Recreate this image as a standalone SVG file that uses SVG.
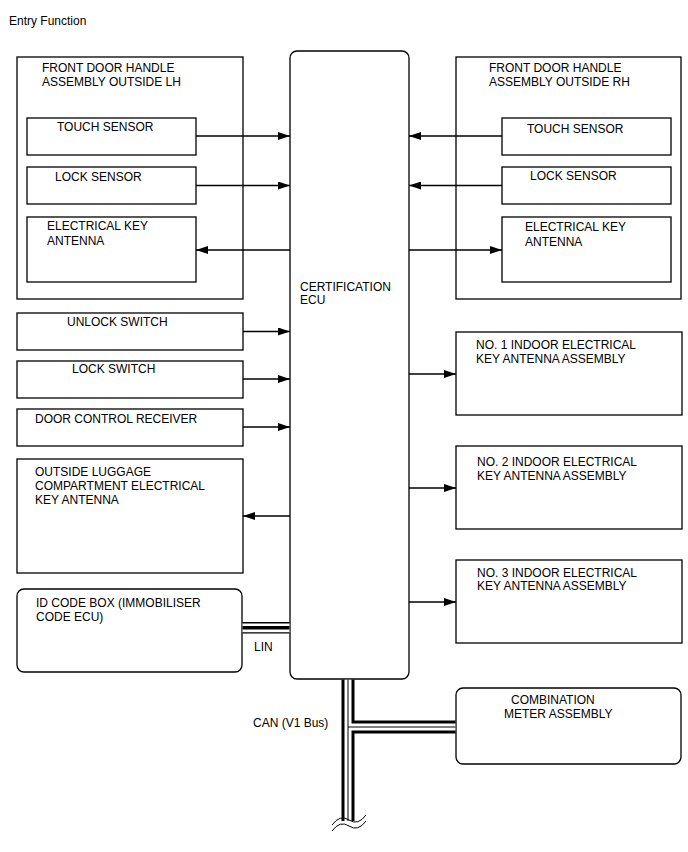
<svg xmlns="http://www.w3.org/2000/svg" width="688" height="852" viewBox="0 0 688 852">
<style>
.b{fill:#fff;stroke:#000;stroke-width:1.3}
.t{font-family:"Liberation Sans",Arial,sans-serif;font-size:12px;fill:#000}
.c{fill:none;stroke:#000;stroke-width:1.3}
</style>
<defs>
<marker id="ah" viewBox="0 0 12 8" refX="12" refY="4" markerWidth="12" markerHeight="8" markerUnits="userSpaceOnUse" orient="auto">
<path d="M0,0 L12,4 L0,8 Z" fill="#000"/>
</marker>
</defs>
<rect width="688" height="852" fill="#fff"/>
<text class="t" x="9" y="25">Entry Function</text>

<g id="lh">
<rect class="b" x="17" y="57" width="226" height="242"/>
<text class="t" x="42" y="72">FRONT DOOR HANDLE</text>
<text class="t" x="42" y="86">ASSEMBLY OUTSIDE LH</text>
</g>
<g id="lh-touch"><rect class="b" x="27" y="118" width="169" height="37"/><text class="t" x="57" y="131">TOUCH SENSOR</text></g>
<g id="lh-lock"><rect class="b" x="27" y="167" width="169" height="37"/><text class="t" x="55" y="181">LOCK SENSOR</text></g>
<g id="lh-ant"><rect class="b" x="27" y="217" width="169" height="65"/><text class="t" x="47" y="230">ELECTRICAL KEY</text><text class="t" x="47" y="245">ANTENNA</text></g>

<g id="rh">
<rect class="b" x="456" y="57" width="225" height="242"/>
<text class="t" x="489" y="72">FRONT DOOR HANDLE</text>
<text class="t" x="489" y="86">ASSEMBLY OUTSIDE RH</text>
</g>
<g id="rh-touch"><rect class="b" x="502" y="118" width="169" height="37"/><text class="t" x="527" y="133">TOUCH SENSOR</text></g>
<g id="rh-lock"><rect class="b" x="502" y="167" width="169" height="37"/><text class="t" x="530" y="180">LOCK SENSOR</text></g>
<g id="rh-ant"><rect class="b" x="502" y="217" width="169" height="65"/><text class="t" x="525" y="231">ELECTRICAL KEY</text><text class="t" x="525" y="246">ANTENNA</text></g>

<g id="ecu"><rect class="b" x="290" y="51" width="119" height="628" rx="7"/><text class="t" x="300" y="291">CERTIFICATION</text><text class="t" x="300" y="304">ECU</text></g>

<g id="unlock"><rect class="b" x="17" y="313" width="226" height="37"/><text class="t" x="67" y="326">UNLOCK SWITCH</text></g>
<g id="lock"><rect class="b" x="17" y="361" width="226" height="37"/><text class="t" x="72" y="373">LOCK SWITCH</text></g>
<g id="dcr"><rect class="b" x="17" y="409" width="226" height="37"/><text class="t" x="35" y="423">DOOR CONTROL RECEIVER</text></g>
<g id="lug"><rect class="b" x="17" y="459" width="226" height="114"/><text class="t" x="35" y="476">OUTSIDE LUGGAGE</text><text class="t" x="35" y="490">COMPARTMENT ELECTRICAL</text><text class="t" x="35" y="504">KEY ANTENNA</text></g>
<g id="idbox"><rect class="b" x="17" y="589" width="225" height="83" rx="7"/><text class="t" x="36" y="607">ID CODE BOX (IMMOBILISER</text><text class="t" x="36" y="621">CODE ECU)</text></g>

<g id="no1"><rect class="b" x="456" y="332" width="226" height="83"/><text class="t" x="476" y="349">NO. 1 INDOOR ELECTRICAL</text><text class="t" x="476" y="363">KEY ANTENNA ASSEMBLY</text></g>
<g id="no2"><rect class="b" x="456" y="446" width="226" height="83"/><text class="t" x="477" y="466">NO. 2 INDOOR ELECTRICAL</text><text class="t" x="477" y="480">KEY ANTENNA ASSEMBLY</text></g>
<g id="no3"><rect class="b" x="456" y="560" width="226" height="83"/><text class="t" x="477" y="577">NO. 3 INDOOR ELECTRICAL</text><text class="t" x="477" y="590">KEY ANTENNA ASSEMBLY</text></g>
<g id="meter"><rect class="b" x="456" y="688" width="225" height="76" rx="7"/><text class="t" x="511" y="704">COMBINATION</text><text class="t" x="504" y="718">METER ASSEMBLY</text></g>

<g id="connectors">
<line class="c" x1="196" y1="136" x2="290" y2="136" marker-end="url(#ah)"/>
<line class="c" x1="196" y1="185.5" x2="290" y2="185.5" marker-end="url(#ah)"/>
<line class="c" x1="290" y1="250" x2="196" y2="250" marker-end="url(#ah)"/>
<line class="c" x1="502" y1="136" x2="409" y2="136" marker-end="url(#ah)"/>
<line class="c" x1="502" y1="185.5" x2="409" y2="185.5" marker-end="url(#ah)"/>
<line class="c" x1="409" y1="250" x2="502" y2="250" marker-end="url(#ah)"/>
<line class="c" x1="243" y1="331.5" x2="290" y2="331.5" marker-end="url(#ah)"/>
<line class="c" x1="243" y1="379" x2="290" y2="379" marker-end="url(#ah)"/>
<line class="c" x1="243" y1="427" x2="290" y2="427" marker-end="url(#ah)"/>
<line class="c" x1="290" y1="516" x2="243" y2="516" marker-end="url(#ah)"/>
<line class="c" x1="409" y1="374" x2="456" y2="374" marker-end="url(#ah)"/>
<line class="c" x1="409" y1="488" x2="456" y2="488" marker-end="url(#ah)"/>
<line class="c" x1="409" y1="602" x2="456" y2="602" marker-end="url(#ah)"/>
<!-- LIN -->
<line x1="242.5" y1="627.8" x2="289.5" y2="627.8" stroke="#000" stroke-width="11.4"/>
<line x1="242.5" y1="627.8" x2="289.5" y2="627.8" stroke="#fff" stroke-width="8.8"/>
<line x1="242.5" y1="627.8" x2="289.5" y2="627.8" stroke="#000" stroke-width="3.4"/>
<text class="t" x="254" y="651">LIN</text>
<!-- CAN -->
<path d="M348,679.7 V822 M348,727 H455.4" fill="none" stroke="#000" stroke-width="13"/>
<path d="M348,679.7 V826 M348,727 H455.4" fill="none" stroke="#fff" stroke-width="7"/>
<path d="M348,679.7 V824 M348,727 H455.4" fill="none" stroke="#000" stroke-width="1"/>
<rect x="330" y="821" width="40" height="12" fill="#fff"/>
<path d="M332,825 Q340,814 349,820 T366,815" fill="none" stroke="#000" stroke-width="1"/>
<path d="M332,831 Q340,820 349,826 T366,821" fill="none" stroke="#000" stroke-width="1"/>
<text class="t" x="253" y="727">CAN (V1 Bus)</text>
</g>
</svg>
